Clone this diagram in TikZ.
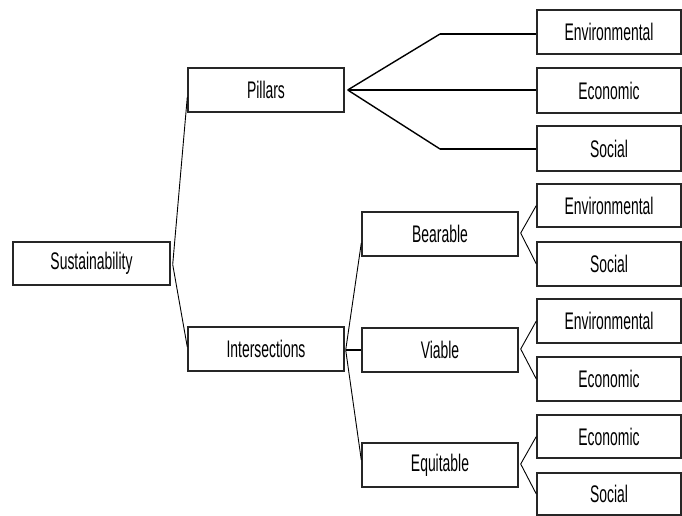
\documentclass[tikz,border=0pt]{standalone}
\usepackage{fontspec}
\setmainfont{Liberation Sans}[FakeStretch=0.58]
\usetikzlibrary{calc}
\definecolor{boxline}{rgb}{0.15,0.15,0.15}
\tikzset{
  box/.style={draw=boxline, line width=1.4pt, fill=white, minimum height=43pt,
    inner sep=0pt, font=\fontsize{24}{28}\selectfont},
  midbox/.style={box, minimum width=156pt},
  leaf/.style={box, minimum width=144pt},
  thin/.style={line width=0.9pt, draw=black},
  thick/.style={line width=2.6pt, draw=black},
}
\begin{document}
\begin{tikzpicture}[x=1pt,y=-1pt]
\useasboundingbox (0,0) rectangle (682,516);
% root
\node[box, minimum width=157pt] (sus) at (91.5,263.5) {Sustainability};
% level 1
\node[midbox, minimum height=44pt] (pil) at (266,90) {Pillars};
\node[midbox, minimum height=44pt] (int) at (266,349) {Intersections};
% pillars leaves
\node[leaf, minimum height=44pt] (penv) at (609,32) {Environmental};
\node[leaf, minimum height=45pt] (peco) at (609,90.5) {Economic};
\node[leaf, minimum height=45pt] (psoc) at (609,148.5) {Social};
% intersections children
\node[midbox, minimum height=44pt] (bea) at (440,234) {Bearable};
\node[midbox, minimum height=44pt] (via) at (440,350) {Viable};
\node[midbox, minimum height=44pt] (equ) at (440,465) {Equitable};
% intersection leaves
\node[leaf] (benv) at (609,205.5) {Environmental};
\node[leaf, minimum height=44pt] (bsoc) at (609,264) {Social};
\node[leaf, minimum height=44pt] (venv) at (609,321) {Environmental};
\node[leaf, minimum height=44pt] (veco) at (609,379) {Economic};
\node[leaf] (eeco) at (609,436.5) {Economic};
\node[leaf, minimum height=42pt] (esoc) at (609,494) {Social};
% connectors from root
\coordinate (sj) at ($(sus.east)+(2,1)$);
\draw[thin] (sj) -- ($(pil.west)+(0,7)$);
\draw[thin] (sj) -- ($(int.west)+(0,-2)$);
% pillars fan
\coordinate (pj) at ($(pil.east)+(3,0)$);
\coordinate (pk1) at (440,34);
\coordinate (pk3) at (440,149);
\draw[line width=1.4pt] (pj) -- (pk1);
\draw[line width=1.4pt] (pj) -- (pk3);
\draw[thick] (pk1) -- (penv.west |- pk1);
\draw[thick] (pj) -- (peco.west |- pj);
\draw[thick] (pk3) -- (psoc.west |- pk3);
% intersections fan
\coordinate (ij) at ($(int.east)+(1,1)$);
\draw[thin] (ij) -- ($(bea.west)+(0,9)$);
\draw[thin] (ij) -- ($(equ.west)+(0,-5)$);
\draw[line width=2pt] (ij) -- (via.west |- ij);
% bearable / viable / equitable fans
\foreach \p/\a/\b in {bea/benv/bsoc, via/venv/veco, equ/eeco/esoc}{
  \coordinate (j\p) at ($(\p.east)+(2,-1)$);
  \draw[thin] (j\p) -- (\a.west);
  \draw[thin] (j\p) -- (\b.west);
}
\end{tikzpicture}
\end{document}
